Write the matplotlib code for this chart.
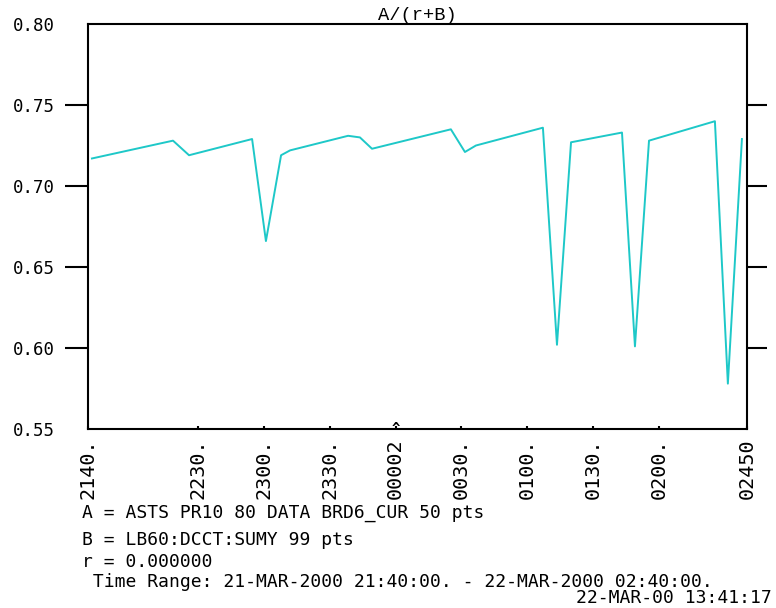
import numpy as np
import pandas as pd
import matplotlib
matplotlib.use("Agg")
import matplotlib.pyplot as plt
import matplotlib.dates as mdates

# sample times and ratio values A/(r+B)
times = ["2000-03-21 21:41:48", "2000-03-21 22:18:42", "2000-03-21 22:26:00",
         "2000-03-21 22:54:42", "2000-03-21 23:01:00", "2000-03-21 23:07:54",
         "2000-03-21 23:12:00", "2000-03-21 23:38:24", "2000-03-21 23:43:48",
         "2000-03-21 23:49:18", "2000-03-22 00:25:12", "2000-03-22 00:31:36",
         "2000-03-22 00:36:36", "2000-03-22 01:07:06", "2000-03-22 01:13:30",
         "2000-03-22 01:19:54", "2000-03-22 01:43:06", "2000-03-22 01:49:00",
         "2000-03-22 01:55:24", "2000-03-22 02:25:24", "2000-03-22 02:31:18",
         "2000-03-22 02:37:42"]
ratio = [0.717, 0.728, 0.719, 0.729, 0.666, 0.719, 0.722, 0.731, 0.730,
         0.723, 0.735, 0.721, 0.725, 0.736, 0.602, 0.727, 0.733, 0.601,
         0.728, 0.740, 0.578, 0.729]

tick_times = ["2000-03-21 21:40", "2000-03-21 22:30", "2000-03-21 23:00",
              "2000-03-21 23:30", "2000-03-22 00:00", "2000-03-22 00:30",
              "2000-03-22 01:00", "2000-03-22 01:30", "2000-03-22 02:00",
              "2000-03-22 02:40"]
tick_labels = ["2140.", "2230.", "2300.", "2330.", "00002", "0030.",
               "0100.", "0130.", "0200.", "02450"]
yticks = [0.55, 0.60, 0.65, 0.70, 0.75, 0.80]
ylabels = ["0.55", "0.60", "0.65", "0.70", "0.75", "0.80"]

info_lines = ["A = ASTS PR10 80 DATA BRD6_CUR 50 pts",
              "B = LB60:DCCT:SUMY 99 pts",
              "r = 0.000000",
              " Time Range: 21-MAR-2000 21:40:00. - 22-MAR-2000 02:40:00."]
stamp = "22-MAR-00 13:41:17"

mono = "DejaVu Sans Mono"
fs = 12.5

t = mdates.date2num(pd.to_datetime(times))
tt = mdates.date2num(pd.to_datetime(tick_times))

fig = plt.figure(figsize=(7.76, 6.08), dpi=100)
ax = fig.add_axes([0.1134, 0.2944, 0.8492, 0.6661])

ax.plot(t, ratio, color="#1ec8c8", lw=1.4)

ax.set_xlim(tt[0], tt[-1])
ax.set_ylim(0.55, 0.80)

for s in ax.spines.values():
    s.set_linewidth(1.5)

# y axis: long outward ticks on both sides
ax.set_yticks(yticks)
ax.set_yticklabels(ylabels, fontfamily=mono, fontsize=fs)
ax.tick_params(axis="y", direction="out", length=16.5, width=1.5, pad=7,
               right=True, labelright=False)
ticklines = ax.yaxis.get_ticklines()
for i in (0, 1, 10, 11):  # no marks at 0.55 / 0.80
    ticklines[i].set_visible(False)
for ln in ticklines[1::2]:
    ln.set_markersize(14.4)

# x axis: tiny inward ticks, vertical labels
ax.set_xticks(tt)
ax.set_xticklabels(tick_labels, rotation=90, fontfamily=mono, fontsize=14.5,
                   va="top", ha="center")
ax.tick_params(axis="x", direction="in", length=2.5, width=1.5, pad=7)

# little caret on the axis at midnight
ax.annotate("^", xy=(tt[4], 0.55), xytext=(0, 0), textcoords="offset points",
            ha="center", va="center", fontfamily=mono, fontsize=10,
            fontweight="bold")

ax.set_title("A/(r+B)", fontfamily="Liberation Mono", fontsize=13.5, pad=3)

ys = [513, 540, 562, 582]
for txt, y in zip(info_lines, ys):
    fig.text(82 / 776, 1 - y / 608, txt, fontfamily=mono, fontsize=13,
             ha="left", va="center")
fig.text(772 / 776, 1 - 598 / 608, stamp, fontfamily=mono, fontsize=13,
         ha="right", va="center")

fig.savefig("out.png", dpi=100)
